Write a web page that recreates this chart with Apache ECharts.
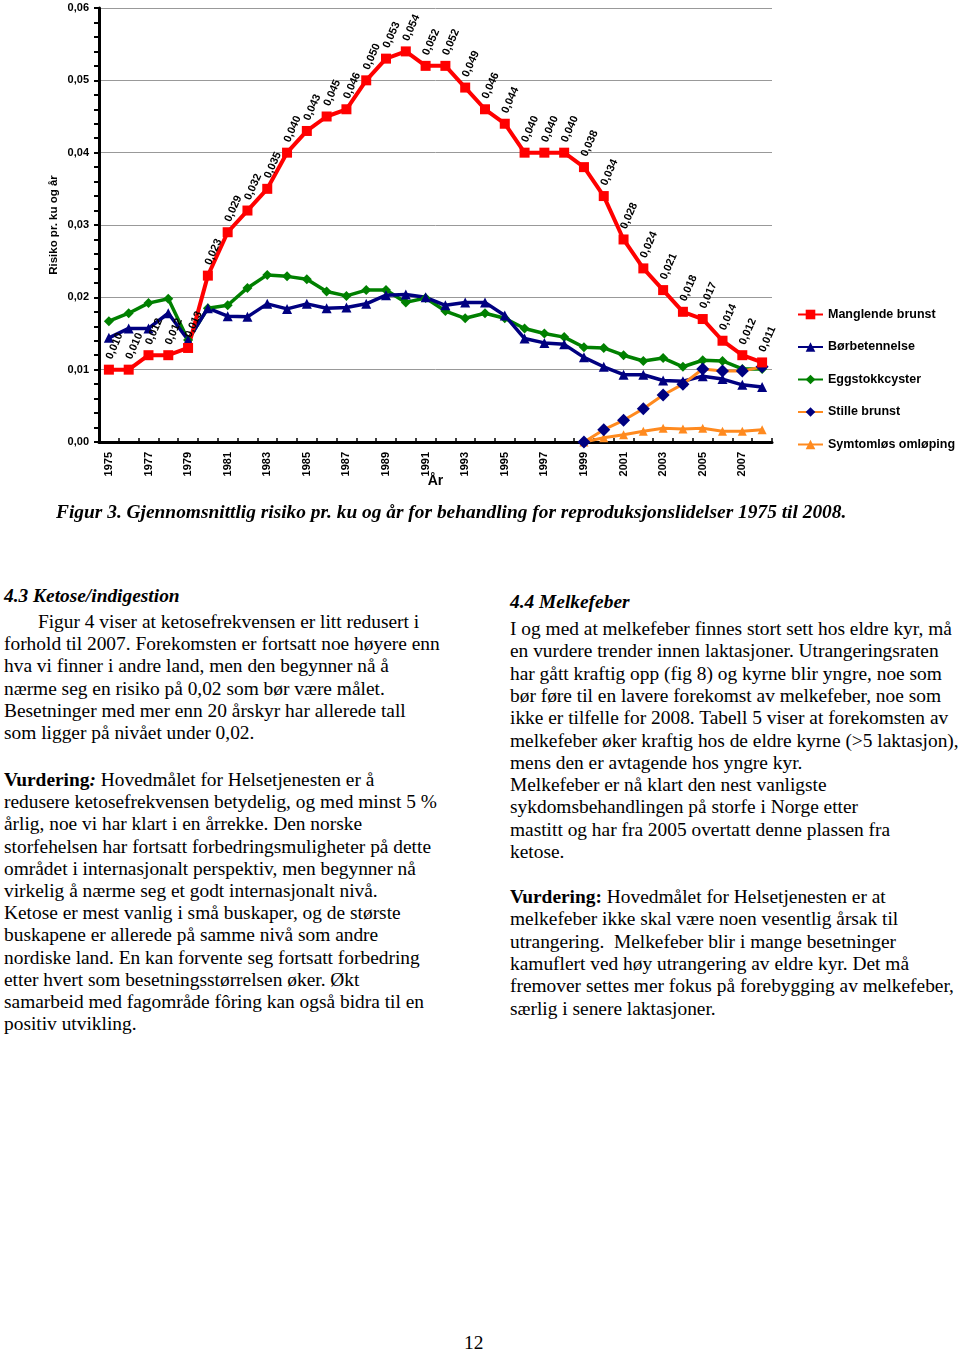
<!DOCTYPE html>
<html>
<head>
<meta charset="utf-8">
<script src="https://cdn.jsdelivr.net/npm/echarts@6/dist/echarts.min.js"></script>
<style>
  html, body { margin: 0; padding: 0; background: #fff; }
  #page { position: relative; width: 960px; height: 1354px; overflow: hidden; background: #fff; }
  #chart { position: absolute; left: 0; top: 0; width: 960px; height: 540px; }
  .t { position: absolute; font-family: "Liberation Serif", "Times New Roman", serif; font-size: 19.4px; line-height: 22px; white-space: pre; color: #000; }
  .bi { font-weight: bold; font-style: italic; }
  .b { font-weight: bold; }
</style>
</head>
<body>
<div id="page">
  <div id="chart"></div>
</div>
<script>
// ---- chart data ----
const years = ['1975','1976','1977','1978','1979','1980','1981','1982','1983','1984','1985','1986','1987','1988','1989','1990','1991','1992','1993','1994','1995','1996','1997','1998','1999','2000','2001','2002','2003','2004','2005','2006','2007','2008'];
const manglendeBrunst = [0.010,0.010,0.012,0.012,0.013,0.023,0.029,0.032,0.035,0.040,0.043,0.045,0.046,0.050,0.053,0.054,0.052,0.052,0.049,0.046,0.044,0.040,0.040,0.040,0.038,0.034,0.028,0.024,0.021,0.018,0.017,0.014,0.012,0.011];
const borbetennelse = [0.0144,0.0157,0.0157,0.0178,0.0141,0.0185,0.0174,0.0173,0.0191,0.0184,0.0191,0.0185,0.0186,0.0191,0.0203,0.0204,0.0200,0.0189,0.0193,0.0193,0.0175,0.0143,0.0137,0.0135,0.0117,0.0104,0.0093,0.0093,0.0085,0.0084,0.0091,0.0087,0.0079,0.0076];
const eggstokkcyster = [0.0167,0.0178,0.0192,0.0198,0.0141,0.0185,0.0189,0.0213,0.0231,0.0229,0.0225,0.0208,0.0202,0.0210,0.0210,0.0193,0.0199,0.0181,0.0171,0.0178,0.0171,0.0157,0.0150,0.0145,0.0131,0.0130,0.0120,0.0112,0.0116,0.0104,0.0113,0.0112,0.0101,0.0101];
const stilleBrunst = [null,null,null,null,null,null,null,null,null,null,null,null,null,null,null,null,null,null,null,null,null,null,null,null,0.0000,0.0017,0.0030,0.0046,0.0065,0.0080,0.0101,0.0098,0.0098,0.0104];
const symtomlosOmloping = [null,null,null,null,null,null,null,null,null,null,null,null,null,null,null,null,null,null,null,null,null,null,null,null,0.0000,0.0006,0.0010,0.0015,0.0019,0.0018,0.0019,0.0015,0.0015,0.0017];
const seriesNames = ['Manglende brunst','Børbetennelse','Eggstokkcyster','Stille brunst','Symtomløs omløping'];
const yAxisName = 'Risiko pr. ku og år';
const xAxisName = 'År';

// ---- page text ----
const caption = 'Figur 3. Gjennomsnittlig risiko pr. ku og år for behandling for reproduksjonslidelser 1975 til 2008.';
const leftHeading = '4.3 Ketose/indigestion';
const leftPara1 = [
  '       Figur 4 viser at ketosefrekvensen er litt redusert i',
  'forhold til 2007. Forekomsten er fortsatt noe høyere enn',
  'hva vi finner i andre land, men den begynner nå å',
  'nærme seg en risiko på 0,02 som bør være målet.',
  'Besetninger med mer enn 20 årskyr har allerede tall',
  'som ligger på nivået under 0,02.'
];
const leftPara2 = [
  ' Hovedmålet for Helsetjenesten er å',
  'redusere ketosefrekvensen betydelig, og med minst 5 %',
  'årlig, noe vi har klart i en årrekke. Den norske',
  'storfehelsen har fortsatt forbedringsmuligheter på dette',
  'området i internasjonalt perspektiv, men begynner nå',
  'virkelig å nærme seg et godt internasjonalt nivå.',
  'Ketose er mest vanlig i små buskaper, og de største',
  'buskapene er allerede på samme nivå som andre',
  'nordiske land. En kan forvente seg fortsatt forbedring',
  'etter hvert som besetningsstørrelsen øker. Økt',
  'samarbeid med fagområde fôring kan også bidra til en',
  'positiv utvikling.'
];
const rightHeading = '4.4 Melkefeber';
const rightPara1 = [
  'I og med at melkefeber finnes stort sett hos eldre kyr, må',
  'en vurdere trender innen laktasjoner. Utrangeringsraten',
  'har gått kraftig opp (fig 8) og kyrne blir yngre, noe som',
  'bør føre til en lavere forekomst av melkefeber, noe som',
  'ikke er tilfelle for 2008. Tabell 5 viser at forekomsten av',
  'melkefeber øker kraftig hos de eldre kyrne (>5 laktasjon),',
  'mens den er avtagende hos yngre kyr.',
  'Melkefeber er nå klart den nest vanligste',
  'sykdomsbehandlingen på storfe i Norge etter',
  'mastitt og har fra 2005 overtatt denne plassen fra',
  'ketose.'
];
const rightPara2 = [
  ' Hovedmålet for Helsetjenesten er at',
  'melkefeber ikke skal være noen vesentlig årsak til',
  'utrangering.  Melkefeber blir i mange besetninger',
  'kamuflert ved høy utrangering av eldre kyr. Det må',
  'fremover settes mer fokus på forebygging av melkefeber,',
  'særlig i senere laktasjoner.'
];

// ---- build text ----
const page = document.getElementById('page');
function addLine(x, yc, text, cls, prefixHtml) {
  const d = document.createElement('div');
  d.className = 't' + (cls ? ' ' + cls : '');
  d.style.left = x + 'px';
  d.style.top = (yc - 12) + 'px';
  if (prefixHtml) {
    d.innerHTML = prefixHtml;
    d.appendChild(document.createTextNode(text));
  } else {
    d.textContent = text;
  }
  page.appendChild(d);
  return d;
}
addLine(56, 513, caption, 'bi');
addLine(4, 597, leftHeading, 'bi');
leftPara1.forEach((s, i) => addLine(4, 623 + i * 22.2, s));
leftPara2.forEach((s, i) => addLine(4, 781 + i * 22.2, s, '', i === 0 ? '<b>Vurdering<i>:</i></b>' : ''));
addLine(510, 603, rightHeading, 'bi');
rightPara1.forEach((s, i) => addLine(510, 630 + i * 22.3, s));
rightPara2.forEach((s, i) => addLine(510, 898 + i * 22.3, s, '', i === 0 ? '<b>Vurdering:</b>' : ''));
addLine(464, 1344, '12', '');

// ---- chart ----
const chart = echarts.init(document.getElementById('chart'), null, { renderer: 'canvas' });
const fmt = v => (v == null ? '' : v.toFixed(3).replace('.', ','));
const orange = '#FF8A1F';
const sans = 'Arial, "Liberation Sans", sans-serif';
const lbl = {
  show: true,
  position: 'top',
  distance: 6,
  rotate: 66,
  align: 'left',
  verticalAlign: 'middle',
  fontFamily: sans,
  fontWeight: 'bold',
  fontSize: 11,
  color: '#000',
  formatter: p => fmt(p.value)
};
chart.setOption({
  animation: false,
  backgroundColor: 'transparent',
  textStyle: { fontFamily: sans },
  grid: { left: 99, top: 8, width: 673, height: 434, containLabel: false, outerBoundsMode: 'none' },
  legend: {
    orient: 'vertical',
    left: 797,
    top: 308,
    padding: 0,
    itemWidth: 25,
    itemHeight: 12,
    itemGap: 19.5,
    textStyle: { fontFamily: sans, fontWeight: 'bold', fontSize: 12.5, color: '#000' },
    data: seriesNames
  },
  xAxis: {
    type: 'category',
    data: years,
    boundaryGap: true,
    name: xAxisName,
    nameLocation: 'middle',
    nameGap: 32,
    nameMoveOverlap: false,
    nameTextStyle: { fontWeight: 'bold', fontSize: 14, color: '#000', fontFamily: sans },
    axisLine: { lineStyle: { color: '#000', width: 3 } },
    axisTick: { show: true, inside: true, length: 4, interval: 0, lineStyle: { color: '#000', width: 1.5 } },
    axisLabel: { interval: 1, rotate: 90, fontWeight: 'bold', fontSize: 11, color: '#000', margin: 10 },
    splitLine: { show: false }
  },
  yAxis: {
    type: 'value',
    min: 0,
    max: 0.06,
    interval: 0.01,
    name: yAxisName,
    nameLocation: 'middle',
    nameGap: 39,
    nameMoveOverlap: false,
    nameTextStyle: { fontWeight: 'bold', fontSize: 11.5, color: '#000', fontFamily: sans },
    axisLine: { show: true, lineStyle: { color: '#000', width: 3 } },
    axisTick: { show: true, length: 5, lineStyle: { color: '#000', width: 2 } },
    minorTick: { show: true, splitNumber: 5, length: 5, lineStyle: { color: '#000', width: 2 } },
    axisLabel: { formatter: v => v.toFixed(2).replace('.', ','), fontWeight: 'bold', fontSize: 11, color: '#000', margin: 10 },
    splitLine: { show: true, lineStyle: { color: '#999', width: 1 } }
  },
  series: [
    {
      name: seriesNames[2], type: 'line', data: eggstokkcyster,
      symbol: 'diamond', symbolSize: 10,
      lineStyle: { color: '#008000', width: 3.5 },
      itemStyle: { color: '#008000' }
    },
    {
      name: seriesNames[1], type: 'line', data: borbetennelse,
      symbol: 'triangle', symbolSize: 10,
      lineStyle: { color: '#000080', width: 3.5 },
      itemStyle: { color: '#000080' }
    },
    {
      name: seriesNames[4], type: 'line', data: symtomlosOmloping,
      symbol: 'triangle', symbolSize: 9,
      lineStyle: { color: orange, width: 3 },
      itemStyle: { color: orange }
    },
    {
      name: seriesNames[3], type: 'line', data: stilleBrunst,
      symbol: 'diamond', symbolSize: 13,
      lineStyle: { color: orange, width: 3 },
      itemStyle: { color: '#000080' }
    },
    {
      name: seriesNames[0], type: 'line', data: manglendeBrunst,
      symbol: 'rect', symbolSize: 10,
      lineStyle: { color: '#FF0000', width: 4 },
      itemStyle: { color: '#FF0000' },
      label: lbl
    }
  ]
});
</script>
</body>
</html>
